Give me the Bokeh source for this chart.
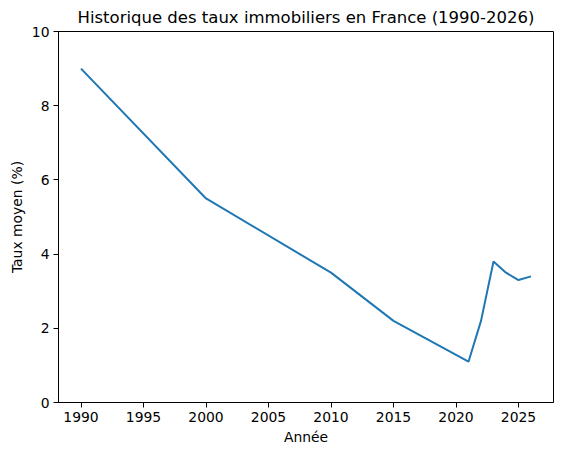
from bokeh.embed import file_html
from bokeh.resources import INLINE
from bokeh.models import ColumnDataSource, Range1d, FixedTicker
from bokeh.plotting import figure

# Taux moyens
annees = [1990, 2000, 2010, 2015, 2021, 2022, 2023, 2024, 2025, 2026]
taux = [9.0, 5.5, 3.5, 2.2, 1.1, 2.2, 3.8, 3.5, 3.3, 3.4]

source = ColumnDataSource(data={"annee": annees, "taux": taux})

p = figure(width=562, height=455, output_backend="svg", toolbar_location=None,
           title="Historique des taux immobiliers en France (1990-2026)",
           x_range=Range1d(1988.2, 2027.8), y_range=Range1d(0, 10),
           min_border_left=58, min_border_right=9, min_border_top=0, min_border_bottom=53)

p.line(x="annee", y="taux", source=source, line_color="#1f77b4", line_width=2)

# Titre
p.title.align = "center"
p.title.text_font = "DejaVu Sans"
p.title.text_font_size = "16.5px"
p.title.text_font_style = "normal"
p.title.text_color = "black"

# Axes
p.xaxis.ticker = FixedTicker(ticks=[1990, 1995, 2000, 2005, 2010, 2015, 2020, 2025])
p.yaxis.ticker = FixedTicker(ticks=[0, 2, 4, 6, 8, 10])
p.xaxis.axis_label = "Année"
p.yaxis.axis_label = "Taux moyen (%)"
for ax in (p.xaxis, p.yaxis):
    ax.axis_label_text_font = "DejaVu Sans"
    ax.axis_label_text_font_size = "13.9px"
    ax.axis_label_text_font_style = "normal"
    ax.axis_label_text_color = "black"
    ax.major_label_text_font = "DejaVu Sans"
    ax.major_label_text_font_size = "13.9px"
    ax.major_label_text_color = "black"
    ax.axis_line_color = "black"
    ax.major_tick_line_color = "black"
    ax.major_tick_out = 5
    ax.major_tick_in = 0
    ax.minor_tick_line_color = None
    ax.major_label_standoff = 4
p.xaxis.axis_label_standoff = 4
p.yaxis.axis_label_standoff = 4

p.xgrid.grid_line_color = None
p.ygrid.grid_line_color = None
p.outline_line_color = "black"
p.outline_line_alpha = 1
p.outline_line_width = 1

open("out.html", "w").write(file_html(p, INLINE))
